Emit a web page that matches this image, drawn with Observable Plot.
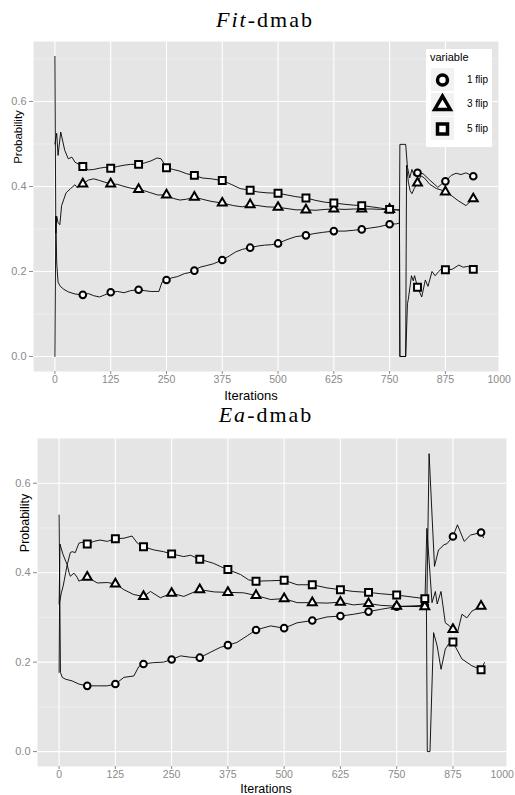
<!DOCTYPE html>
<html><head><meta charset="utf-8">
<script src="https://cdn.jsdelivr.net/npm/d3@7"></script>
<script src="https://cdn.jsdelivr.net/npm/@observablehq/plot@0.6"></script>
<style>
body{margin:0;background:#fff;}
#wrap{position:relative;width:515px;height:795px;overflow:hidden;font-family:"Liberation Sans",Arial,sans-serif;color:#000;}
.abs{position:absolute;}
.title{font-family:"Liberation Serif",serif;font-size:22px;letter-spacing:2px;line-height:22px;white-space:nowrap;transform:translateX(-50%);}
.axt{white-space:nowrap;line-height:1;transform:translateX(-50%);}
.ayt{white-space:nowrap;line-height:1;transform:translate(-50%,-50%) rotate(-90deg);}
</style>
</head><body>
<div id="wrap"></div>
<script>
// ---------- shared ----------
const seriesNames = ["1 flip", "3 flip", "5 flip"];
const xTicks = [0, 125, 250, 375, 500, 625, 750, 875, 1000];
const yTicks = [0, 0.2, 0.4, 0.6];
const yMinorTicks = [0.1, 0.3, 0.5, 0.7];
const markerIter = [62.5, 125, 187.5, 250, 312.5, 375, 437.5, 500, 562.5, 625, 687.5, 750, 812.5, 875, 937.5];

// ---------- Fit-dmab (top) ----------
const fitOneMarks   = [0.145,0.151,0.157,0.180,0.202,0.227,0.256,0.266,0.285,0.295,0.299,0.311,0.432,0.412,0.424];
const fitThreeMarks = [0.406,0.406,0.393,0.380,0.375,0.361,0.357,0.351,0.345,0.347,0.347,0.346,0.408,0.387,0.371];
const fitFiveMarks  = [0.447,0.443,0.452,0.444,0.426,0.414,0.391,0.384,0.373,0.361,0.355,0.346,0.163,0.204,0.205];

const fitOneX = [0,2,4,7,12,20,30,45,75,87,100,112,140,155,170,200,215,233,240,262,275,290,300,325,340,355,390,405,420,455,470,485,520,540,580,600,650,670,705,725,765,772,773,786,790,795,800,805,825,840,858,866,888,899,910,921];
const fitOneY = [0.0,0.33,0.22,0.175,0.165,0.158,0.152,0.147,0.148,0.143,0.140,0.145,0.153,0.150,0.155,0.155,0.153,0.153,0.175,0.185,0.188,0.195,0.197,0.210,0.214,0.218,0.236,0.246,0.252,0.260,0.262,0.263,0.275,0.282,0.289,0.292,0.295,0.297,0.302,0.305,0.312,0.314,0.499,0.499,0.445,0.42,0.44,0.425,0.43,0.415,0.398,0.405,0.426,0.431,0.428,0.432];

const fitThreeX = [0,2,4,7,11,15,25,35,45,50,75,87,100,112,140,155,170,200,215,230,265,280,295,330,350,400,420,455,475,520,540,585,605,650,670,710,730,765,772,773,786,788,792,796,800,805,820,828,840,855,865,888,903,921];
const fitThreeY = [0.706,0.29,0.33,0.315,0.31,0.355,0.385,0.395,0.404,0.397,0.415,0.418,0.414,0.41,0.405,0.40,0.396,0.39,0.385,0.38,0.372,0.368,0.37,0.37,0.365,0.355,0.352,0.355,0.352,0.348,0.345,0.344,0.346,0.346,0.347,0.347,0.346,0.345,0.345,0.0,0.0,0.45,0.41,0.39,0.383,0.395,0.425,0.42,0.405,0.395,0.392,0.379,0.367,0.355];

const fitFiveX = [0,4,7,13,22,30,38,45,75,87,100,112,140,155,170,200,215,229,238,265,280,295,330,350,395,415,455,475,520,540,585,605,650,670,710,730,765,772,773,786,790,792,799,803,806,822,830,836,845,852,860,868,890,905,915,925];
const fitFiveY = [0.5,0.525,0.473,0.528,0.485,0.465,0.469,0.457,0.439,0.44,0.443,0.445,0.447,0.45,0.452,0.455,0.46,0.467,0.465,0.44,0.436,0.43,0.42,0.418,0.405,0.395,0.387,0.385,0.38,0.376,0.367,0.363,0.358,0.356,0.352,0.349,0.345,0.344,0.0,0.0,0.124,0.135,0.19,0.178,0.19,0.14,0.18,0.165,0.20,0.19,0.20,0.208,0.205,0.215,0.21,0.212];

// ---------- Ea-dmab (bottom) ----------
const eaOneMarks   = [0.147,0.151,0.196,0.206,0.210,0.238,0.272,0.276,0.293,0.303,0.313,0.324,0.327,0.481,0.490];
const eaThreeMarks = [0.390,0.375,0.347,0.354,0.362,0.356,0.349,0.342,0.333,0.334,0.331,0.325,0.324,0.273,0.325];
const eaFiveMarks  = [0.464,0.476,0.458,0.442,0.430,0.407,0.381,0.383,0.373,0.362,0.356,0.350,0.342,0.245,0.183];

const eaOneX = [0,3,7,14,29,44,85,107,144,166,177,210,232,270,292,336,358,395,418,470,529,595,654,714,817,822,834,843,848,854,862,885,900,914,943];
const eaOneY = [0.529,0.177,0.166,0.162,0.158,0.151,0.147,0.147,0.166,0.169,0.19,0.199,0.200,0.214,0.211,0.222,0.233,0.244,0.259,0.281,0.288,0.301,0.307,0.318,0.33,0.666,0.414,0.451,0.455,0.462,0.465,0.507,0.470,0.484,0.478];

const eaThreeX = [0,2,5,9,15,18,22,25,33,40,44,85,107,144,166,203,225,277,345,410,470,529,595,654,714,817,825,828.5,836,840,848.5,858,867.6,885,895,906,917];
const eaThreeY = [0.33,0.464,0.453,0.44,0.425,0.418,0.40,0.392,0.399,0.39,0.381,0.377,0.378,0.362,0.351,0.358,0.344,0.347,0.357,0.355,0.340,0.333,0.332,0.328,0.327,0.499,0.384,0.333,0.358,0.33,0.358,0.288,0.281,0.266,0.307,0.299,0.314];

const eaFiveX = [0,1,5,9,18,25,29,36,44,51,77,91,107,144,162,174,210,232,277,292,343,358,403,421,470,529,595,654,714,816,818,824,832,840,848.6,858,865,895,917,945];
const eaFiveY = [0.177,0.333,0.355,0.37,0.418,0.445,0.447,0.445,0.466,0.468,0.47,0.473,0.47,0.477,0.482,0.466,0.451,0.447,0.436,0.439,0.421,0.414,0.396,0.384,0.382,0.373,0.366,0.358,0.353,0.342,0.0,0.0,0.266,0.236,0.184,0.229,0.24,0.207,0.192,0.199];

// ---------- helpers ----------
function markRows(vals, series) {
  return markerIter.map((x, i) => ({x, y: vals[i], series}));
}
function lineRows(xs, ys, marks, series) {
  const pts = xs.map((x, i) => ({x, y: ys[i], series})).concat(markRows(marks, series));
  pts.sort((a, b) => a.x - b.x);
  return pts;
}
const symbolOf = {"1 flip": "circle", "3 flip": "triangle", "5 flip": "square"};
const rOf = {"1 flip": 3.3, "3 flip": 3.3, "5 flip": 3.9};

function panel({sets, yDomain, height, margins, lastDx}) {
  const lineData = sets.flatMap(s => lineRows(s.xs, s.ys, s.marks, s.name));
  const dotMarks = sets.map(s => Plot.dot(markRows(s.marks, s.name), {
    x: "x", y: "y", symbol: () => symbolOf[s.name], r: rOf[s.name],
    fill: "#fff", stroke: "#000", strokeWidth: 2
  }));
  const axisStyle = {tickFormat: d => String(d), tickSize: 3, tickPadding: 1, color: "#8a8a8a", label: null, fontSize: 10.5};
  return Plot.plot({
    width: 515, height,
    marginTop: margins[0], marginRight: margins[1], marginBottom: margins[2], marginLeft: margins[3],
    style: {background: "transparent", fontFamily: "'Liberation Sans', Arial, sans-serif", fontSize: "11px", overflow: "visible"},
    x: {domain: [-48, 994]},
    y: {domain: yDomain},
    symbol: {domain: ["circle", "triangle", "square"], range: ["circle", "triangle", "square"]},
    marks: [
      Plot.frame({fill: "#E5E5E5"}),
      Plot.ruleY(yMinorTicks.filter(v => v < yDomain[1]), {stroke: "#F2F2F2", strokeWidth: 0.7}),
      Plot.ruleY(yTicks, {stroke: "#FFFFFF", strokeWidth: 1.1}),
      Plot.ruleX(xTicks.filter(v => v < 994), {stroke: "#FFFFFF", strokeWidth: 1.1}),
      Plot.axisX({...axisStyle, ticks: xTicks.slice(0, -1)}),
      Plot.axisX({...axisStyle, ticks: xTicks.slice(-1), tickSize: 0, tickPadding: 4, dx: lastDx}),
      Plot.axisY({ticks: yTicks, tickFormat: d3.format(".1f"), tickSize: 4, tickPadding: 3, color: "#8a8a8a", label: null, fontSize: 11}),
      Plot.line(lineData, {x: "x", y: "y", z: "series", stroke: "#000", strokeWidth: 0.9}),
      ...dotMarks
    ]
  });
}

const wrap = document.getElementById("wrap");
function addAbs(el, left, top) {
  el.classList.add("abs");
  el.style.left = left + "px";
  el.style.top = top + "px";
  wrap.appendChild(el);
  return el;
}
function div(html, cls, style) {
  const d = document.createElement("div");
  if (cls) d.className = cls;
  d.innerHTML = html;
  if (style) d.setAttribute("style", style);
  return d;
}

// Titles
addAbs(div('<span style="font-style:italic">Fit</span>-dmab', "title"), 265, 9);
addAbs(div('<span style="font-style:italic">Ea</span>-dmab', "title"), 266, 404);

// Top panel
const top1 = panel({
  sets: [
    {name: "1 flip", xs: fitOneX, ys: fitOneY, marks: fitOneMarks},
    {name: "3 flip", xs: fitThreeX, ys: fitThreeY, marks: fitThreeMarks},
    {name: "5 flip", xs: fitFiveX, ys: fitFiveY, marks: fitFiveMarks}
  ],
  yDomain: [-0.0353, 0.741], height: 362, margins: [8, 17, 24, 33], lastDx: -2
});
addAbs(top1, 0, 33);

// Bottom panel
const bot = panel({
  sets: [
    {name: "1 flip", xs: eaOneX, ys: eaOneY, marks: eaOneMarks},
    {name: "3 flip", xs: eaThreeX, ys: eaThreeY, marks: eaThreeMarks},
    {name: "5 flip", xs: eaFiveX, ys: eaFiveY, marks: eaFiveMarks}
  ],
  yDomain: [-0.0333, 0.70], height: 365, margins: [8, 9, 29, 37], lastDx: -7
});
addAbs(bot, 0, 430);

// Axis titles
addAbs(div("Iterations", "axt", "font-size:13px"), 251, 388.5);
addAbs(div("Iterations", "axt", "font-size:12.5px"), 266, 782.5);
addAbs(div("Probability", "ayt", "font-size:11.5px"), 19, 137);
addAbs(div("Probability", "ayt", "font-size:12.5px"), 24.5, 523);

// Legend
const leg = addAbs(div("", "", "width:66px;height:98px;background:#fff;"), 426, 49);
const lt = div("variable", "", "position:absolute;left:4px;top:3px;font-size:11px;line-height:11px;");
leg.appendChild(lt);
const legSym = {"1 flip": [d3.symbolCircle, 78], "3 flip": [d3.symbolTriangle, 105], "5 flip": [d3.symbolSquare, 100]};
seriesNames.forEach((name, i) => {
  const topY = 19 + i * 24.5;
  const key = div("", "", `position:absolute;left:5px;top:${topY}px;width:23px;height:23px;background:#F2F2F2;`);
  const svg = d3.create("svg").attr("width", 23).attr("height", 23);
  svg.append("path")
    .attr("transform", "translate(11.5,12)")
    .attr("d", d3.symbol(legSym[name][0], legSym[name][1])())
    .attr("fill", "#fff").attr("stroke", "#000").attr("stroke-width", 3.5);
  key.appendChild(svg.node());
  leg.appendChild(key);
  const lab = div(name, "", `position:absolute;left:41px;top:${topY + 6.5}px;font-size:10px;line-height:10px;white-space:nowrap;`);
  leg.appendChild(lab);
});
</script>
</body></html>
